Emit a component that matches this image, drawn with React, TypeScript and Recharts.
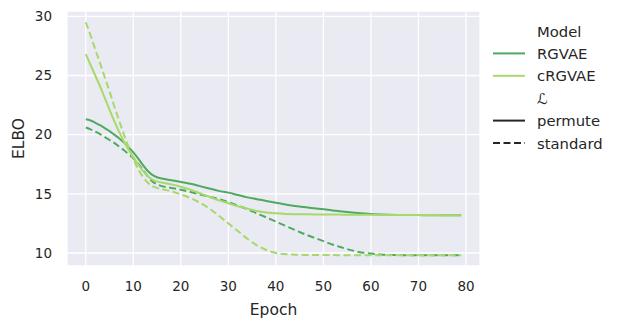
import {
  LineChart,
  Line,
  XAxis,
  YAxis,
  CartesianGrid,
  Legend,
  Label,
} from "recharts";

const epochs = [
  0, 1, 2, 3, 4, 5, 6, 7, 8, 9, 10, 11, 12, 13, 14, 15, 16, 18, 20, 22, 24,
  26, 28, 30, 32, 34, 36, 38, 40, 42, 44, 46, 48, 50, 52, 54, 56, 58, 60, 62,
  64, 66, 68, 70, 72, 74, 76, 78, 79,
];

const rgvaePermute = [
  21.3, 21.2, 21.0, 20.8, 20.55, 20.3, 20.0, 19.7, 19.35, 18.95, 18.5, 18.0,
  17.45, 16.95, 16.6, 16.4, 16.3, 16.15, 16.0, 15.85, 15.65, 15.45, 15.25,
  15.1, 14.9, 14.7, 14.55, 14.4, 14.25, 14.1, 13.98, 13.88, 13.78, 13.7, 13.6,
  13.5, 13.42, 13.36, 13.3, 13.26, 13.23, 13.21, 13.2, 13.2, 13.19, 13.19,
  13.18, 13.18, 13.18,
];

const rgvaeStandard = [
  20.6, 20.45, 20.25, 20.05, 19.8, 19.55, 19.3, 19.0, 18.7, 18.35, 18.0, 17.55,
  17.05, 16.5, 16.05, 15.8, 15.65, 15.5, 15.35, 15.15, 14.95, 14.75, 14.55,
  14.3, 14.0, 13.7, 13.35, 13.0, 12.65, 12.3, 11.95, 11.6, 11.3, 11.0, 10.7,
  10.45, 10.22, 10.05, 9.95, 9.88, 9.84, 9.82, 9.81, 9.8, 9.8, 9.8, 9.8, 9.8,
  9.8,
];

const crgvaePermute = [
  26.8, 25.9, 25.0, 24.1, 23.1, 22.1, 21.15, 20.25, 19.45, 18.75, 18.1, 17.5,
  16.95, 16.5, 16.2, 16.05, 15.95, 15.8, 15.6, 15.35, 15.05, 14.75, 14.45,
  14.2, 13.95, 13.75, 13.55, 13.42, 13.35, 13.3, 13.28, 13.27, 13.26, 13.25,
  13.25, 13.24, 13.24, 13.23, 13.23, 13.22, 13.22, 13.21, 13.21, 13.2, 13.2,
  13.2, 13.19, 13.19, 13.19,
];

const crgvaeStandard = [
  29.5, 28.4, 27.2, 26.05, 24.85, 23.65, 22.4, 21.2, 20.05, 18.95, 17.95, 17.1,
  16.45, 15.95, 15.65, 15.5, 15.4, 15.2, 14.95, 14.65, 14.25, 13.75, 13.15,
  12.5, 11.85, 11.2, 10.65, 10.25, 10.0, 9.9, 9.86, 9.84, 9.83, 9.82, 9.82,
  9.81, 9.81, 9.81, 9.8, 9.8, 9.8, 9.8, 9.8, 9.8, 9.8, 9.8, 9.8, 9.8, 9.8,
];

const xTicks = [0, 10, 20, 30, 40, 50, 60, 70, 80];
const yTicks = [10, 15, 20, 25, 30];

const DARK = "#4daa5f";
const LIGHT = "#a6d96a";
const TEXT = "#262626";
const FONT = "DejaVu Sans";
const DASH = "7 3.5";

const data = epochs.map((e, i) => ({
  epoch: e,
  rgvaePermute: rgvaePermute[i],
  rgvaeStandard: rgvaeStandard[i],
  crgvaePermute: crgvaePermute[i],
  crgvaeStandard: crgvaeStandard[i],
}));

const legendRows = [
  { label: "Model", color: null, dash: null },
  { label: "RGVAE", color: DARK, dash: null },
  { label: "cRGVAE", color: LIGHT, dash: null },
  { label: "ℒ", color: null, dash: null },
  { label: "permute", color: TEXT, dash: null },
  { label: "standard", color: TEXT, dash: DASH },
];

function renderLegend() {
  return (
    <svg width={132} height={140} style={{ fontFamily: FONT }}>
      {legendRows.map((r, i) => {
        const y = 15 + i * 22.4;
        return (
          <g key={r.label}>
            {r.color && (
              <line
                x1={5}
                x2={37}
                y1={y}
                y2={y}
                stroke={r.color}
                strokeWidth={2}
                strokeDasharray={r.dash ?? undefined}
              />
            )}
            <text
              x={49}
              y={y}
              dominantBaseline="central"
              fontSize={14.8}
              fill={TEXT}
              fontStyle={r.label === "ℒ" ? "italic" : "normal"}
            >
              {r.label}
            </text>
          </g>
        );
      })}
    </svg>
  );
}

function YTitle({ viewBox }: any) {
  const cy = viewBox.y + viewBox.height / 2;
  return (
    <text
      x={19}
      y={cy}
      transform={`rotate(-90, 19, ${cy})`}
      textAnchor="middle"
      dominantBaseline="central"
      fontSize={15.5}
      fill={TEXT}
      fontFamily={FONT}
    >
      ELBO
    </text>
  );
}

export default function App() {
  const tick = { fontSize: 13.5, fill: TEXT, fontFamily: FONT };
  return (
    <div style={{ position: "absolute", left: 0, top: 0, background: "#fff" }}>
      <LineChart
        width={620}
        height={329}
        data={data}
        margin={{ top: 11, right: 140, bottom: 0, left: 0 }}
      >
        <CartesianGrid
          fill="#eaeaf2"
          stroke="#ffffff"
          strokeWidth={1.3}
          vertical
          horizontal
        />
        <XAxis
          dataKey="epoch"
          type="number"
          domain={[-3.95, 82.95]}
          ticks={xTicks}
          allowDataOverflow
          axisLine={false}
          tickLine={false}
          tickSize={6}
          tickMargin={9}
          height={63}
          tick={tick}
        >
          <Label
            value="Epoch"
            position="insideBottom"
            offset={14}
            style={{ fontSize: 15.5, fill: TEXT, fontFamily: FONT }}
          />
        </XAxis>
        <YAxis
          type="number"
          domain={[8.9, 30.45]}
          ticks={yTicks}
          allowDataOverflow
          axisLine={false}
          tickLine={false}
          tickSize={6}
          tickMargin={9}
          width={67}
          tick={tick}
        >
          <Label content={<YTitle />} />
        </YAxis>
        <Legend
          layout="vertical"
          align="center"
          verticalAlign="middle"
          content={renderLegend}
          wrapperStyle={{ position: "absolute", left: 488, top: 16, width: 132, height: 140 }}
        />
        <Line
          dataKey="rgvaePermute"
          type="monotone"
          stroke={DARK}
          strokeWidth={2}
          dot={false}
          isAnimationActive={false}
        />
        <Line
          dataKey="rgvaeStandard"
          type="monotone"
          stroke={DARK}
          strokeWidth={2}
          strokeDasharray={DASH}
          dot={false}
          isAnimationActive={false}
        />
        <Line
          dataKey="crgvaePermute"
          type="monotone"
          stroke={LIGHT}
          strokeWidth={2}
          dot={false}
          isAnimationActive={false}
        />
        <Line
          dataKey="crgvaeStandard"
          type="monotone"
          stroke={LIGHT}
          strokeWidth={2}
          strokeDasharray={DASH}
          dot={false}
          isAnimationActive={false}
        />
      </LineChart>
    </div>
  );
}
